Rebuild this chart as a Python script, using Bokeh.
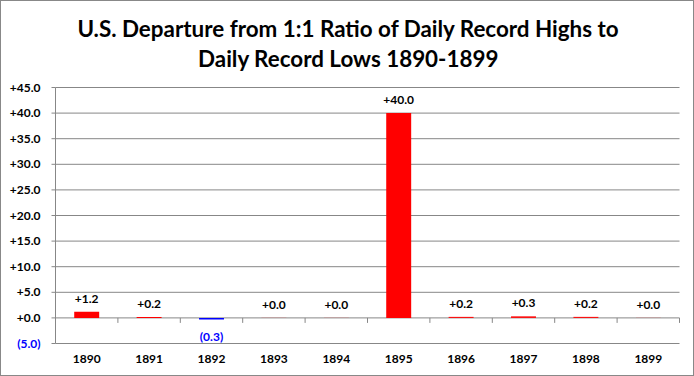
from bokeh.plotting import figure
from bokeh.models import Range1d, ColumnDataSource, LabelSet
from bokeh.core.properties import value
from bokeh.embed import file_html
from bokeh.resources import INLINE

years = [1890, 1891, 1892, 1893, 1894, 1895, 1896, 1897, 1898, 1899]
values = [1.2, 0.2, -0.3, 0.02, 0.02, 40.0, 0.2, 0.3, 0.2, 0.02]
y_ticks = [-5, 0, 5, 10, 15, 20, 25, 30, 35, 40, 45]
title_lines = ["U.S. Departure from 1:1 Ratio of Daily Record Highs to",
               "Daily Record Lows 1890-1899"]

FONT = value("Lato")
GRAY = "#878787"
BLUE = "#0000FF"
RED = "#FF0000"
W, H = 694, 376

xs = list(range(len(years)))
fmt = lambda v: ("+%.1f" % v) if v >= 0 else ("(%.1f)" % abs(v))
labels = [fmt(v) for v in values]
colors = [RED if v >= 0 else BLUE for v in values]

# layout of the plotting area in pixels (the frame covers the whole canvas)
PLOT_L, PLOT_R, PLOT_T, PLOT_B = 54, 678, 86, 342
x_left = -0.5
x_end = len(years) - 0.5
ppx = (PLOT_R - PLOT_L) / (x_end - x_left)
ppy = (PLOT_B - PLOT_T) / (y_ticks[-1] - y_ticks[0])
xpx = lambda px: x_left + (px - PLOT_L) / ppx
ypx = lambda py: y_ticks[-1] - (py - PLOT_T) / ppy

p = figure(width=W, height=H, output_backend="svg", toolbar_location=None,
           x_range=Range1d(xpx(0), xpx(W)), y_range=Range1d(ypx(H), ypx(0)),
           min_border=0)
p.outline_line_color = None
p.background_fill_color = "white"
p.border_fill_color = "white"
p.styles = {"border": "1px solid #888888", "box-sizing": "border-box"}
p.xaxis.visible = False
p.yaxis.visible = False
p.xgrid.visible = False
p.ygrid.visible = False

# title
t_src = ColumnDataSource(dict(x=[xpx(W / 2)] * 2, y=[ypx(27), ypx(57)], t=title_lines))
p.add_layout(LabelSet(x="x", y="y", text="t", source=t_src, text_align="center",
                      text_baseline="middle", text_font=FONT, text_font_size="22.4px",
                      text_font_style="bold", text_color="black"))

# horizontal gridlines, value axis line and its ticks
n = len(y_ticks)
p.segment(x0=[x_left] * n, x1=[x_end] * n, y0=y_ticks, y1=y_ticks, line_color=GRAY, line_width=1)
p.segment(x0=[x_left], x1=[x_left], y0=[y_ticks[0]], y1=[y_ticks[-1]], line_color=GRAY, line_width=1)
tick_len = 4 / ppx
p.segment(x0=[x_left - tick_len] * n, x1=[x_left] * n, y0=y_ticks, y1=y_ticks, line_color=GRAY, line_width=1)

# bars
src = ColumnDataSource(dict(x=xs, top=values, color=colors))
p.vbar(x="x", top="top", bottom=0, width=0.4, fill_color="color", line_color=None, source=src)

# category boundary ticks below the zero line
bx = [i + 0.5 for i in xs]
p.segment(x0=bx, x1=bx, y0=[0] * len(bx), y1=[-5 / ppy] * len(bx), line_color=GRAY, line_width=1)

# value-axis tick labels
yl_src = ColumnDataSource(dict(x=[x_left] * n, y=y_ticks, t=[fmt(t) for t in y_ticks],
                               c=["black" if t >= 0 else BLUE for t in y_ticks]))
p.add_layout(LabelSet(x="x", y="y", text="t", source=yl_src, x_offset=-15, text_align="right",
                      text_baseline="middle", text_font=FONT, text_font_size="12px",
                      text_font_style="bold", text_color="c"))

# category labels
xl_src = ColumnDataSource(dict(x=xs, y=[ypx(357)] * len(xs), t=[str(y) for y in years]))
p.add_layout(LabelSet(x="x", y="y", text="t", source=xl_src, text_align="center",
                      text_baseline="middle", text_font=FONT, text_font_size="12px",
                      text_font_style="bold", text_color="black"))

# data labels
pos_src = ColumnDataSource(dict(x=[x for x, v in zip(xs, values) if v >= 0],
                                y=[v for v in values if v >= 0],
                                t=[l for l, v in zip(labels, values) if v >= 0]))
neg_src = ColumnDataSource(dict(x=[x for x, v in zip(xs, values) if v < 0],
                                y=[v for v in values if v < 0],
                                t=[l for l, v in zip(labels, values) if v < 0]))
p.add_layout(LabelSet(x="x", y="y", text="t", source=pos_src, text_align="center",
                      text_baseline="bottom", y_offset=9, text_font=FONT, text_font_size="12px",
                      text_font_style="bold", text_color="black"))
p.add_layout(LabelSet(x="x", y="y", text="t", source=neg_src, text_align="center",
                      text_baseline="top", y_offset=-10, text_font=FONT, text_font_size="12px",
                      text_font_style="bold", text_color=BLUE))

open("out.html", "w").write(file_html(p, INLINE))
